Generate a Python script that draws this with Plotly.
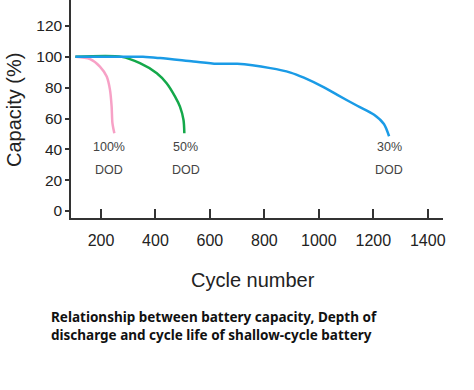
import plotly.graph_objects as go

# Data
dod100_cycles = [106, 160, 196, 221, 233, 239, 242, 249]
dod100_capacity = [100, 98.5, 93.7, 87.2, 78.6, 67.7, 57, 50.4]

dod50_cycles = [106, 276, 343, 405, 441, 472, 490, 503, 506]
dod50_capacity = [100, 100, 95.9, 89.4, 82.9, 74.2, 67.7, 59, 50.4]

dod30_cycles = [106, 354, 417, 539, 625, 700, 822, 896, 945, 1019, 1068, 1141, 1203, 1239, 1258]
dod30_capacity = [100, 100, 99.2, 97, 95.5, 95.5, 92.7, 89.8, 86.5, 80.2, 75.3, 68.3, 62.5, 56.5, 48.5]

x_ticks = [200, 400, 600, 800, 1000, 1200, 1400]
y_ticks = [0, 20, 40, 60, 80, 100, 120]

labels = [("100%", "DOD", 229), ("50%", "DOD", 512), ("30%", "DOD", 1259)]

fig = go.Figure()
fig.add_trace(go.Scatter(x=dod100_cycles, y=dod100_capacity, mode="lines",
                         line=dict(color="#f7a1c6", width=2.5, shape="spline", smoothing=0.8)))
fig.add_trace(go.Scatter(x=dod50_cycles, y=dod50_capacity, mode="lines",
                         line=dict(color="#14a84a", width=2.5, shape="spline", smoothing=0.8)))
fig.add_trace(go.Scatter(x=dod30_cycles, y=dod30_capacity, mode="lines",
                         line=dict(color="#1a9be6", width=2.5, shape="spline", smoothing=0.8)))

ann = []
for top, bottom, xc in labels:
    ann.append(dict(x=xc, y=41.6, xref="x", yref="y", text=top, showarrow=False,
                    font=dict(family="Liberation Sans, Arial", size=12.5, color="#444")))
    ann.append(dict(x=xc, y=26.6, xref="x", yref="y", text=bottom, showarrow=False,
                    font=dict(family="Liberation Sans, Arial", size=12.5, color="#444")))

ann.append(dict(x=14, y=110, xref="paper", yref="paper", text="Capacity (%)", showarrow=False,
                xanchor="center", textangle=-90,
                font=dict(family="Liberation Sans, Arial", size=20, color="#222")))
ann.append(dict(x=253, y=280, xref="paper", yref="paper", text="Cycle number", showarrow=False,
                xanchor="center",
                font=dict(family="Liberation Sans, Arial", size=20, color="#222")))
ann.append(dict(x=49, y=326, xref="paper", yref="paper", xanchor="left",
                text="<b>Relationship between battery capacity, Depth of<br>discharge and cycle life of shallow-cycle battery</b>",
                showarrow=False, align="left",
                font=dict(family="Noto Sans, Open Sans", size=13.5, color="#111")))

# convert pixel-based annotations for paper refs
W, H = 474, 390
ml, mr, mt, mb = 71, 31, 0, 172
pw, ph = W - ml - mr, H - mt - mb
for a in ann:
    if a["xref"] == "paper":
        a["x"] = (a["x"] - ml) / pw
        a["y"] = (H - mb - a["y"]) / ph
        a["yanchor"] = "middle"

fig.update_layout(
    width=W, height=H, margin=dict(l=ml, r=mr, t=mt, b=mb, autoexpand=False),
    paper_bgcolor="white", plot_bgcolor="white", showlegend=False,
    annotations=ann,
    xaxis=dict(range=[89.8, 1456], tickvals=x_ticks, ticks="inside", ticklen=9, tickwidth=1.5,
               tickcolor="#333", showline=True, linecolor="#333", linewidth=1.5, showgrid=False,
               zeroline=False, ticklabelstandoff=7, automargin=False,
               tickfont=dict(family="Liberation Sans, Arial", size=16, color="#222")),
    yaxis=dict(range=[-4.54, 136.9], tickvals=y_ticks, ticks="outside", ticklen=4, tickwidth=1.5,
               tickcolor="#333", showline=True, linecolor="#333", linewidth=1.5, showgrid=False,
               zeroline=False, automargin=False,
               tickfont=dict(family="Liberation Sans, Arial", size=15.5, color="#222")),
)
fig.write_html("out.html", config={"displayModeBar": False},
               post_script="document.body.style.margin='0';")
